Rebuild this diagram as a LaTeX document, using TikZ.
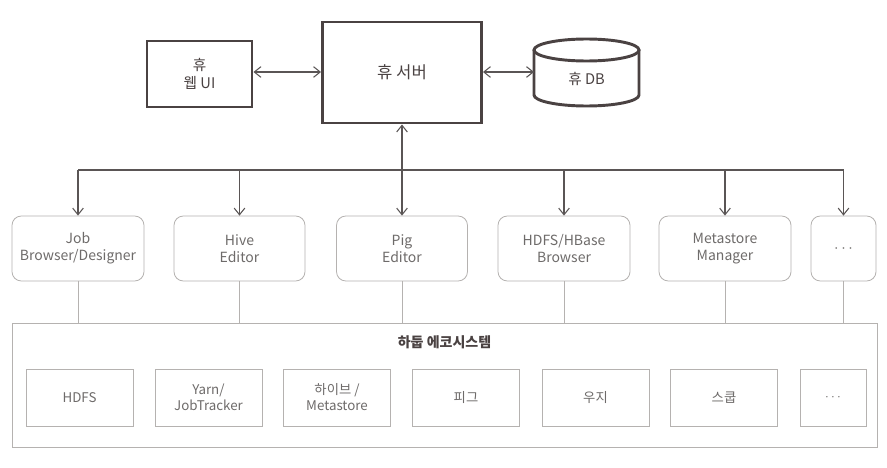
\documentclass[tikz,border=0pt]{standalone}
\usepackage{fontspec}
\setmainfont{Noto Sans CJK KR}
\usetikzlibrary{arrows.meta}
\definecolor{topc}{HTML}{4A4242}
\definecolor{arrc}{HTML}{5A5555}
\definecolor{boxc}{HTML}{B5B2B0}
\definecolor{txtc}{HTML}{6E6B6A}
\tikzset{
  topbox/.style={draw=topc, line width=2.2pt, align=center, text=topc, inner sep=0pt},
  appbox/.style={draw=boxc, line width=0.6pt, rounded corners=7pt, align=center, text=txtc,
     minimum height=48.75pt, inner sep=0pt, font=\fontsize{10.5}{12.5}\selectfont},
  ecobox/.style={draw=boxc, line width=0.6pt, align=center, text=txtc,
     minimum height=42.75pt, inner sep=0pt, font=\fontsize{10}{12}\selectfont},
  arr/.style={draw=arrc, line width=0.8pt, -{Straight Barb[length=5pt,width=8pt]}},
  darr/.style={draw=arrc, line width=0.8pt, {Straight Barb[length=5pt,width=8pt]}-{Straight Barb[length=5pt,width=8pt]}},
  link/.style={draw=boxc, line width=0.6pt}
}
\begin{document}
\begin{tikzpicture}[x=0.75pt,y=-0.75pt]
\useasboundingbox[fill=white] (0,0) rectangle (887,467);
% top row
\node[topbox, minimum width=78.75pt, minimum height=49.5pt, font=\fontsize{11}{14}\selectfont] (web) at (199.5,74) {휴\\웹 UI};
\node[topbox, minimum width=119.25pt, minimum height=75.75pt, font=\fontsize{12.5}{14}\selectfont] (srv) at (402,72.5) {휴 서버};
\node[text=topc, inner sep=0pt, minimum width=78.75pt, minimum height=20pt, font=\fontsize{11}{13}\selectfont] (db) at (586.5,79) {휴 DB};
\draw[draw=topc, line width=2.2pt] (534,50) -- (534,95) arc[start angle=180, end angle=0, x radius=52.5, y radius=11] -- (639,50);
\draw[draw=topc, line width=2.2pt] (586.5,50) ellipse[x radius=52.5, y radius=11];
% app row
\node[appbox, minimum width=99pt] (job) at (78,248.5) {Job\\Browser/Designer};
\node[appbox, minimum width=98.25pt] (hive) at (239.5,248.5) {Hive\\Editor};
\node[appbox, minimum width=98.25pt] (pig) at (402,248.5) {Pig\\Editor};
\node[appbox, minimum width=99pt] (hb) at (564,248.5) {HDFS/HBase\\Browser};
\node[appbox, minimum width=99pt] (meta) at (725,248.5) {Metastore\\Manager};
\node[appbox, minimum width=48.75pt, font=\fontsize{13}{14}\selectfont] (more) at (843.5,248.5) {$\cdots$};
% ecosystem
\node[draw=boxc, line width=0.6pt, minimum width=648.75pt, minimum height=93pt, inner sep=0pt] (eco) at (444.5,385) {};
\node[text=topc, inner sep=0pt, font=\fontsize{10.5}{12}\selectfont\bfseries] (ecot) at (444.5,342) {하둡 에코시스템};
\node[ecobox, minimum width=80.25pt] (e1) at (79.5,397.5) {HDFS};
\node[ecobox, minimum width=80.25pt] (e2) at (208.5,397.5) {Yarn/\\JobTracker};
\node[ecobox, minimum width=80.25pt] (e3) at (337,397.5) {하이브 /\\Metastore};
\node[ecobox, minimum width=80.25pt] (e4) at (466,397.5) {피그};
\node[ecobox, minimum width=80.25pt] (e5) at (595.5,397.5) {우지};
\node[ecobox, minimum width=80.25pt] (e6) at (724,397.5) {스쿱};
\node[ecobox, minimum width=49.5pt] (e7) at (833,397.5) {$\cdots$};
% connectors top
\draw[darr] (web.east |- 0,72) -- (srv.west |- 0,72);
\draw[darr] (srv.east |- 0,72) -- (db.west |- 0,72) -- (534,72);
\draw[darr] (srv.south) -- (pig.north);
\coordinate (bus) at (0,170);
\draw[draw=arrc, line width=0.8pt] (job.north |- bus) -- (more.north |- bus);
\foreach \n in {job,hive,hb,meta,more} \draw[arr] (\n.north |- bus) -- (\n.north);
% links to ecosystem
\foreach \n in {job,hive,pig,hb,meta,more} \draw[link] (\n.south) -- (\n.south |- eco.north);
\end{tikzpicture}
\end{document}
